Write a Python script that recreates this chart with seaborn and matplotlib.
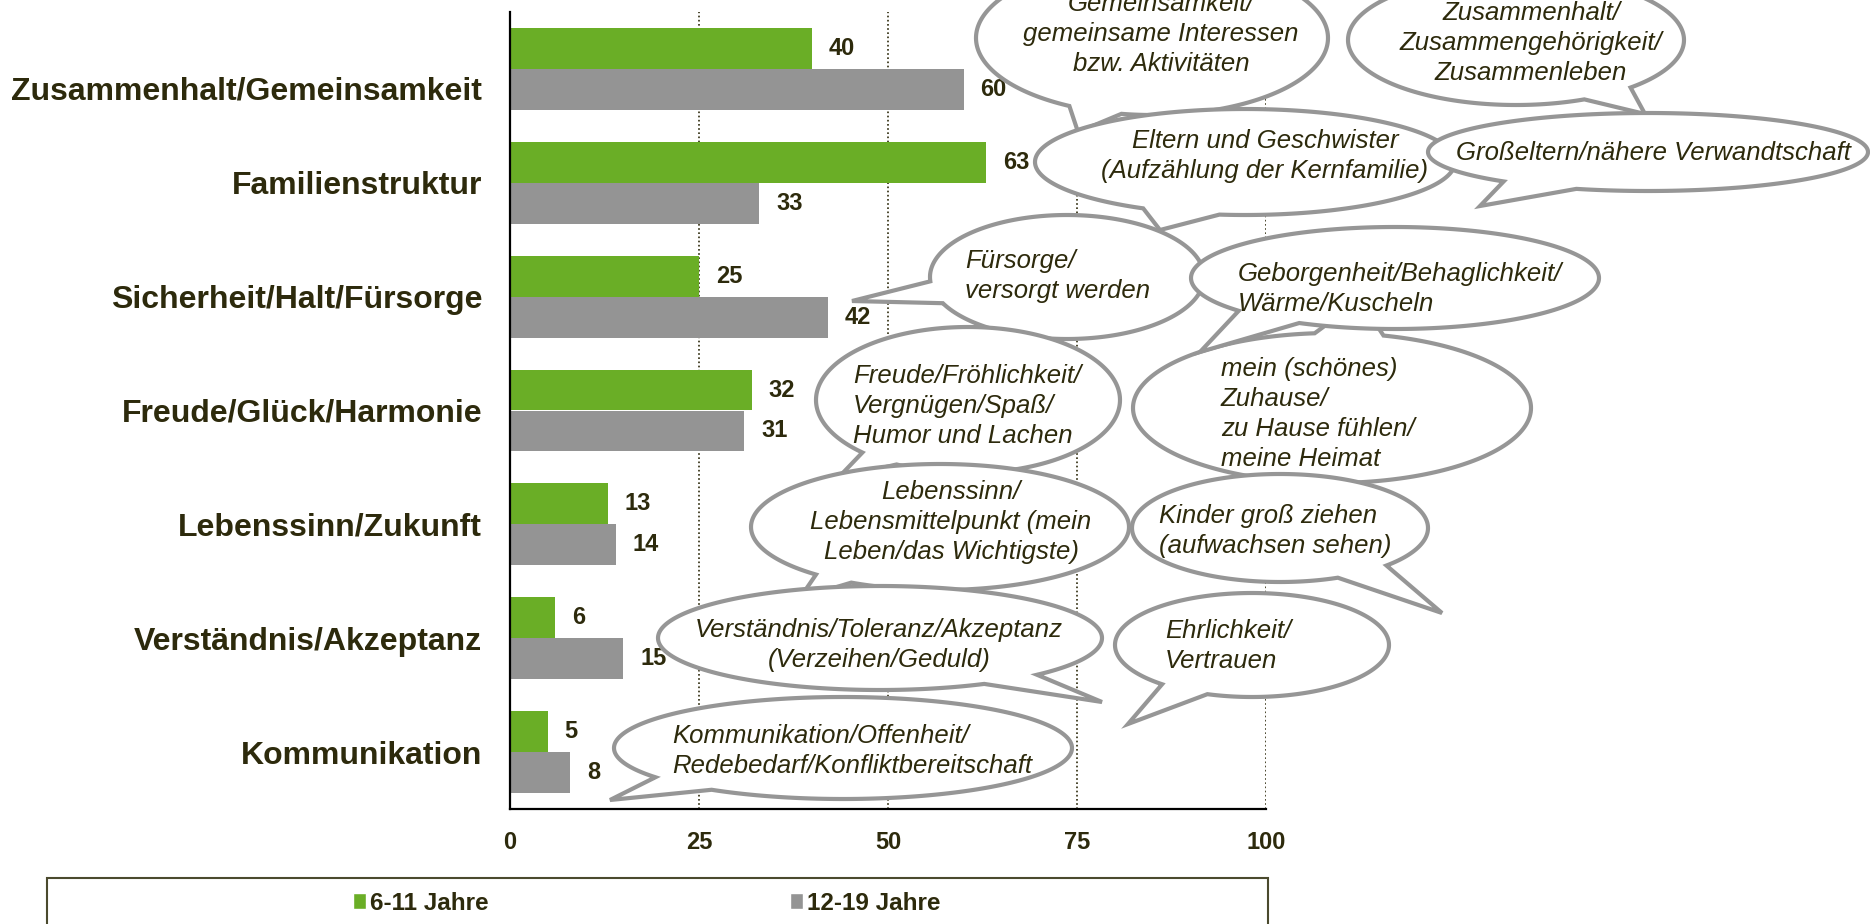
import matplotlib
matplotlib.use("Agg")
import matplotlib.pyplot as plt
from matplotlib.patches import Polygon, Rectangle, Patch
from matplotlib.transforms import ScaledTranslation
import numpy as np
import pandas as pd
import seaborn as sns

# ------------------------------------------------------
# Data
# ------------------------------------------------------
categories = [
    "Zusammenhalt/Gemeinsamkeit",
    "Familienstruktur",
    "Sicherheit/Halt/Fürsorge",
    "Freude/Glück/Harmonie",
    "Lebenssinn/Zukunft",
    "Verständnis/Akzeptanz",
    "Kommunikation",
]
kids = [40, 63, 25, 32, 13, 6, 5]      # 6-11 Jahre
teens = [60, 33, 42, 31, 14, 15, 8]    # 12-19 Jahre
groups = ["6-11 Jahre", "12-19 Jahre"]
x_ticks = [0, 25, 50, 75, 100]

bubble_texts = [
    "Gemeinsamkeit/\ngemeinsame Interessen\nbzw. Aktivitäten",
    "Zusammenhalt/\nZusammengehörigkeit/\nZusammenleben",
    "Eltern und Geschwister\n(Aufzählung der Kernfamilie)",
    "Großeltern/nähere Verwandtschaft",
    "Fürsorge/\nversorgt werden",
    "mein (schönes)\nZuhause/\nzu Hause fühlen/\nmeine Heimat",
    "Geborgenheit/Behaglichkeit/\nWärme/Kuscheln",
    "Freude/Fröhlichkeit/\nVergnügen/Spaß/\nHumor und Lachen",
    "Lebenssinn/\nLebensmittelpunkt (mein\nLeben/das Wichtigste)",
    "Kinder groß ziehen\n(aufwachsen sehen)",
    "Verständnis/Toleranz/Akzeptanz\n(Verzeihen/Geduld)",
    "Ehrlichkeit/\nVertrauen",
    "Kommunikation/Offenheit/\nRedebedarf/Konfliktbereitschaft",
]

# bubble layout in figure pixels (y downwards):
# ellipse cx, cy, rx, ry / tail tip / tail base angles / text anchor + alignment
bubble_layout = [
    (1152, 38, 176, 77, (1078, 132), 100, 118, (1161, 34), "center"),
    (1516, 40, 168, 65, (1645, 114), 47, 66, (1531, 43), "center"),
    (1245, 162, 210, 53, (1160, 230), 97, 119, (1265, 156), "center"),
    (1648, 152, 220, 39, (1480, 206), 109, 131, (1653, 153), "center"),
    (1067, 277, 137, 62, (852, 301), 155, 176, (965, 276), "left"),
    (1332, 408, 199, 75, (1360, 300), 265, 285, (1221, 414), "left"),
    (1395, 278, 204, 51, (1200, 352), 118, 140, (1238, 289), "left"),
    (968, 400, 152, 73, (838, 478), 118, 134, (853, 406), "left"),
    (940, 527, 189, 63, (800, 598), 118, 131, (951, 522), "center"),
    (1280, 528, 148, 54, (1442, 613), 44, 67, (1159, 531), "left"),
    (880, 638, 222, 52, (1102, 702), 45, 62, (879, 645), "center"),
    (1252, 645, 137, 52, (1128, 724), 109, 131, (1165, 646), "left"),
    (843, 748, 229, 51, (610, 800), 125, 145, (672, 751), "left"),
]

GREEN = "#6AAE26"
GREY = "#949494"
TXT = "#2D2A0C"
EDGE = "#969696"


def draw_bubble(ax, cx, cy, rx, ry, tip, t1, t2):
    t = np.radians(np.linspace(t2, t1 + 360, 240))
    pts = np.column_stack([cx + rx * np.cos(t), cy + ry * np.sin(t)])
    pts = np.vstack([pts, tip])
    ax.add_patch(Polygon(pts, closed=True, facecolor="white", edgecolor=EDGE,
                         linewidth=3, joinstyle="miter"))


def main():
    sns.set_style("white")
    plt.rcParams["font.family"] = ["Liberation Sans", "DejaVu Sans"]

    df = pd.DataFrame({
        "Kategorie": categories * 2,
        "Wert": kids + teens,
        "Gruppe": [groups[0]] * len(kids) + [groups[1]] * len(teens),
    })

    fig = plt.figure(figsize=(18.7, 9.24), dpi=100)
    ax = fig.add_axes([510 / 1870, 1 - 809 / 924, (1266 - 510) / 1870, (809 - 12) / 924])

    sns.barplot(data=df, x="Wert", y="Kategorie", hue="Gruppe", order=categories,
                hue_order=groups, palette=[GREEN, GREY], orient="h", width=0.72,
                saturation=1, linewidth=0, legend=False, ax=ax, errorbar=None)

    for cont in ax.containers:
        ax.bar_label(cont, fmt="%d", padding=12, fontsize=17, fontweight="bold", color=TXT)

    ax.set_xlim(0, 100)
    ax.set_ylim(6.5, -0.5)
    ax.set_xticks(x_ticks)
    ax.set_xlabel("")
    ax.set_ylabel("")
    ax.xaxis.grid(True, linestyle=(0, (1, 1.5)), color=TXT, linewidth=1.2)
    ax.set_axisbelow(True)
    for s in ["top", "right"]:
        ax.spines[s].set_visible(False)
    for s in ["left", "bottom"]:
        ax.spines[s].set_color("black")
        ax.spines[s].set_linewidth(1.6)
    ax.tick_params(axis="x", length=6, width=1.5, direction="out", pad=10,
                   labelsize=17, labelcolor=TXT)
    ax.tick_params(axis="y", length=0, pad=20, labelsize=23, labelcolor=TXT)
    for lab in ax.get_xticklabels() + ax.get_yticklabels():
        lab.set_fontweight("bold")
    # the first category label sits a little lower in the original
    first = ax.get_yticklabels()[0]
    first.set_transform(first.get_transform() + ScaledTranslation(0, -0.19, fig.dpi_scale_trans))

    # legend
    handles = [Patch(facecolor=GREEN), Patch(facecolor=GREY)]
    fig.legend(handles, groups, loc="center left", bbox_to_anchor=(353 / 1870, 1 - 903 / 924),
               ncol=2, frameon=False, columnspacing=12.4, handlelength=0.55,
               handleheight=0.6, handletextpad=0.15, borderpad=0, borderaxespad=0,
               prop={"weight": "bold", "size": 17.5}, labelcolor=TXT)
    fig.add_artist(Rectangle((47 / 1870, -0.05), (1268 - 47) / 1870, 0.05 + 1 - 878 / 924,
                             transform=fig.transFigure, fill=False, edgecolor="#4B4A2E",
                             linewidth=1.5))

    # speech bubbles
    ov = fig.add_axes([0, 0, 1, 1])
    ov.set_xlim(0, 1870)
    ov.set_ylim(924, 0)
    ov.axis("off")
    ov.patch.set_alpha(0)
    for text, (cx, cy, rx, ry, tip, t1, t2, (tx, ty), ha) in zip(bubble_texts, bubble_layout):
        draw_bubble(ov, cx, cy, rx, ry, tip, t1, t2)
        ov.text(tx, ty, text, ha=ha, va="center", multialignment=ha, fontsize=18.5,
                style="italic", color=TXT, linespacing=1.3)

    fig.savefig("out.png", dpi=100)


if __name__ == "__main__":
    main()
